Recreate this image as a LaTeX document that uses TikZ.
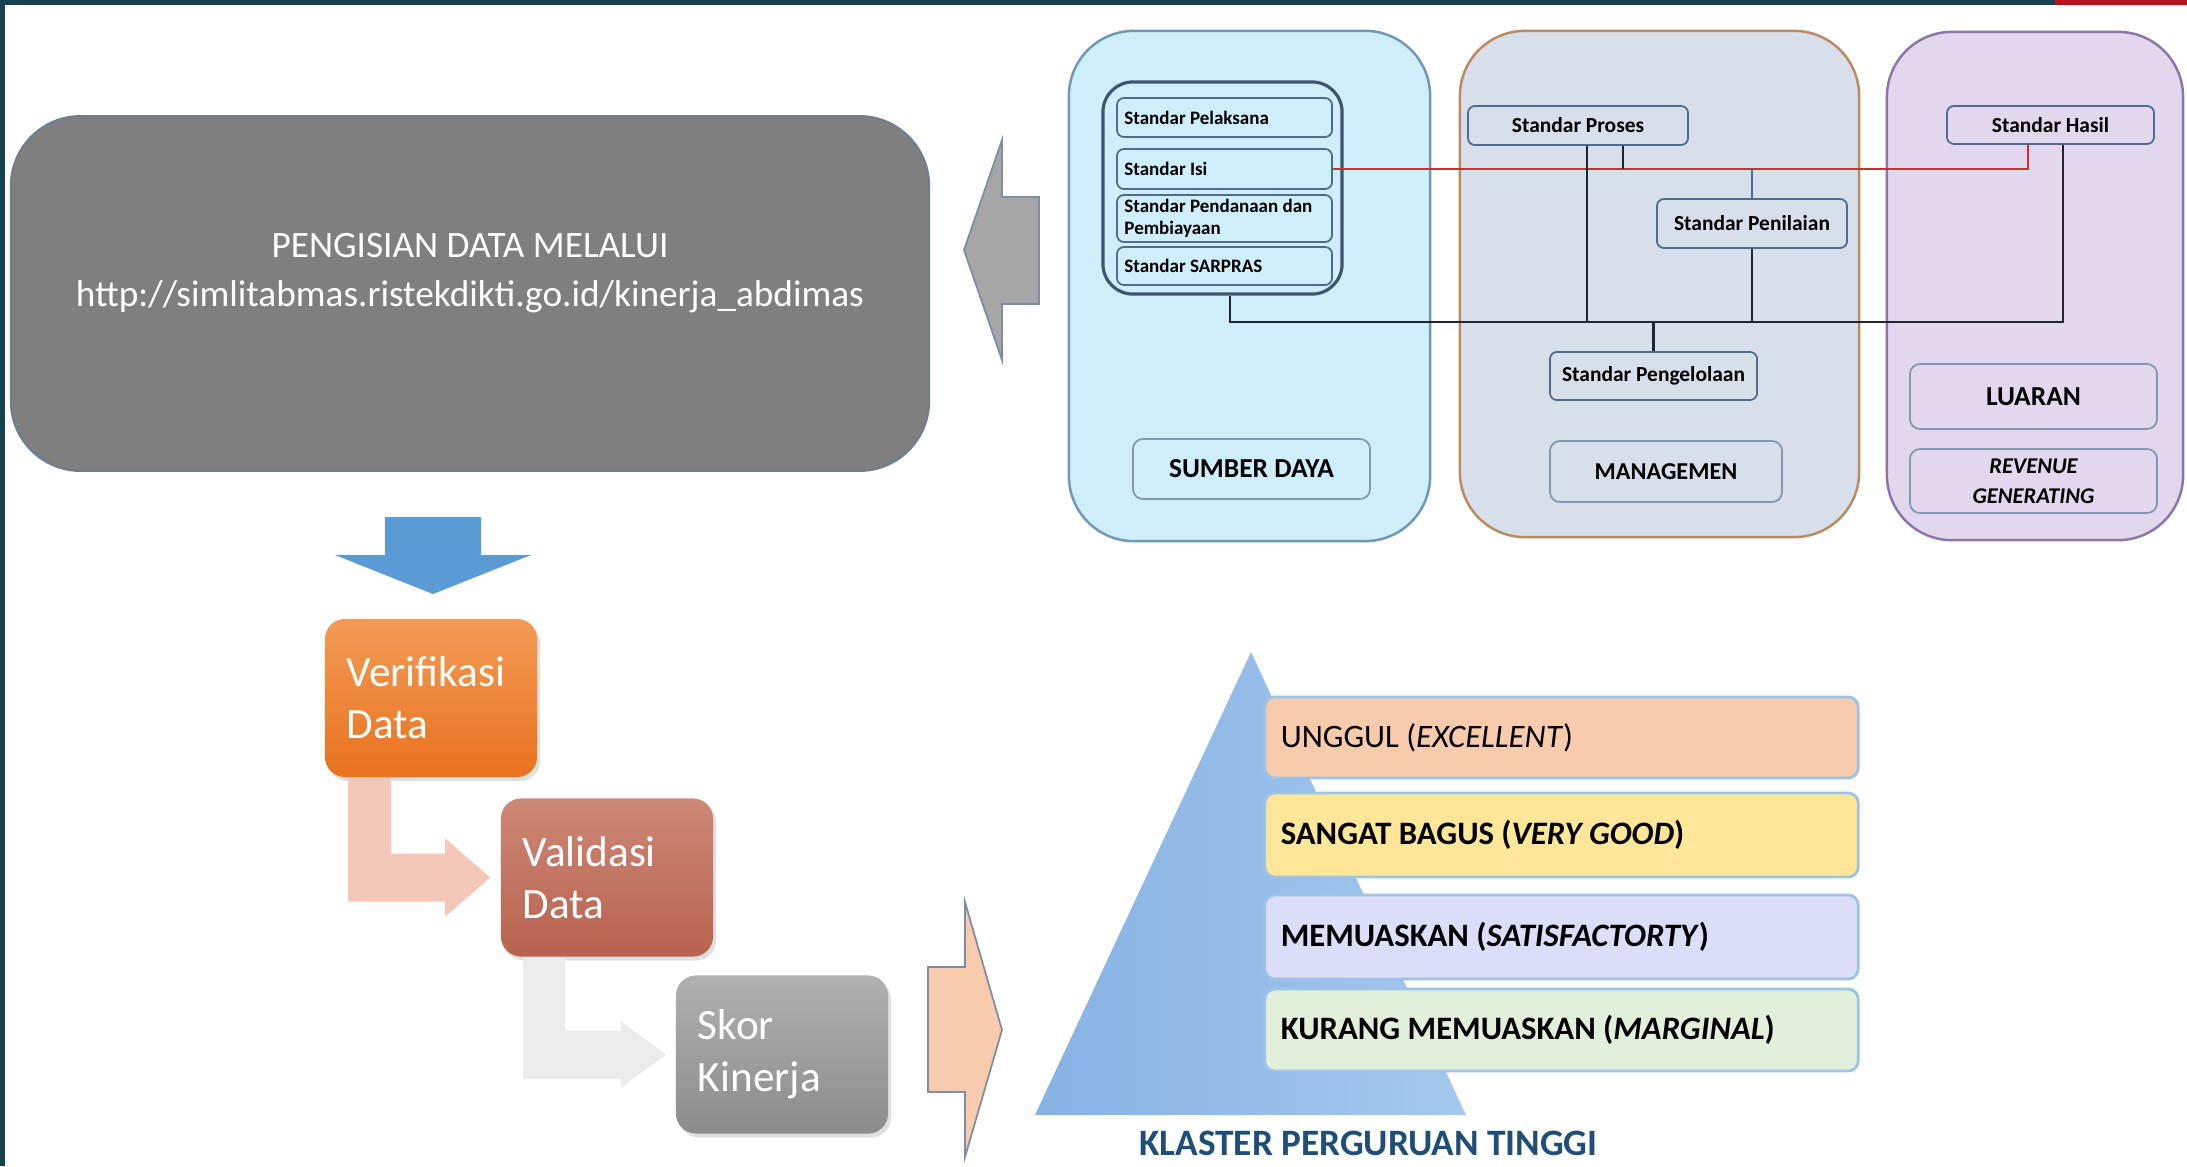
\documentclass[tikz,border=0pt]{standalone}
\usepackage{fontspec}
\setmainfont{Carlito}
\usetikzlibrary{positioning,calc,shadows}

\definecolor{frameteal}{HTML}{16414E}
\definecolor{framered}{HTML}{B3141C}
\definecolor{datagray}{HTML}{7F7F7F}
\definecolor{dataedge}{HTML}{6A7D92}
\definecolor{arrowgray}{HTML}{A6A6A6}
\definecolor{arrowedge}{HTML}{7E8DA3}
\definecolor{sumberfill}{HTML}{CDEEFA}
\definecolor{sumberedge}{HTML}{7197B8}
\definecolor{mgmtfill}{HTML}{D7DFEA}
\definecolor{mgmtedge}{HTML}{BC8A62}
\definecolor{luaranfill}{HTML}{E2D7EC}
\definecolor{luaranedge}{HTML}{8B76AA}
\definecolor{boxedge}{HTML}{4E6A8C}
\definecolor{busblack}{HTML}{1E2633}
\definecolor{busred}{HTML}{D42A30}
\definecolor{busblue}{HTML}{4A6C9A}
\definecolor{downblue}{HTML}{5B9BD5}
\definecolor{peach}{HTML}{F8CBAD}
\definecolor{levelyellow}{HTML}{FFE699}
\definecolor{levellav}{HTML}{DCDDF8}
\definecolor{levelgreen}{HTML}{E2EFDA}
\definecolor{leveledge}{HTML}{9DC3E6}
\definecolor{klasterblue}{HTML}{1F4E79}
\definecolor{bentpeach}{HTML}{F4C7B8}
\definecolor{bentgray}{HTML}{EBEBEB}
\definecolor{veriftop}{HTML}{F39A55}
\definecolor{verifbot}{HTML}{E8731F}
\definecolor{validtop}{HTML}{CD8876}
\definecolor{validbot}{HTML}{B7624F}
\definecolor{skortop}{HTML}{B0B0B0}
\definecolor{skorbot}{HTML}{8C8C8C}
\definecolor{pyramidl}{HTML}{86B2E3}
\definecolor{pyramidr}{HTML}{A5C8EE}

\tikzset{
  panel/.style={draw=#1, line width=0.7pt, rounded corners=0.65cm},
  stdleft/.style={draw=boxedge, fill=sumberfill, line width=0.5pt, rounded corners=0.07cm,
    text width=2cm, inner xsep=0.075cm, inner ysep=0pt, align=flush left,
    font=\bfseries\fontsize{5.4}{6.4}\selectfont},
  stdmid/.style={draw=boxedge, fill=#1, line width=0.5pt, rounded corners=0.07cm,
    inner sep=0pt, font=\bfseries\fontsize{6.1}{7.3}\selectfont},
  lblbox/.style={draw=boxedge!70, fill=#1, line width=0.5pt, rounded corners=0.1cm,
    inner sep=0pt, align=center},
  busln/.style={draw=busblack, line width=0.8pt},
  redln/.style={draw=busred, line width=0.5pt},
  blockarrow/.style={draw=arrowedge, line width=0.5pt},
  procbox/.style={rounded corners=0.2cm, text=white, text width=1.68cm, inner xsep=0.22cm,
    align=flush left, minimum height=1.58cm, font=\fontsize{12.3}{14.8}\selectfont,
    drop shadow={opacity=0.25, shadow xshift=0.03cm, shadow yshift=-0.04cm}},
  levelbox/.style={draw=leveledge, fill=#1, line width=0.8pt, rounded corners=0.1cm,
    text width=5.61cm, inner xsep=0.16cm, align=flush left, font=\fontsize{9.3}{11}\selectfont}
}

\begin{document}
\begin{tikzpicture}[x=0.01cm,y=-0.01cm]
  % Frame
  \fill[white] (0,0) rectangle (2187,1166);
  \useasboundingbox (0,0) rectangle (2187,1166);
  \fill[frameteal] (0,0) rectangle (2055,5);
  \fill[framered] (2055,0) rectangle (2187,5);
  \fill[frameteal] (0,0) rectangle (5,1166);

  % Data entry
  \node[draw=dataedge, fill=datagray, line width=0.5pt, rounded corners=0.7cm,
    minimum width=9.18cm, minimum height=3.55cm] (data) at (470,293.5) {};
  \node[text=white, align=center, font=\fontsize{10.6}{13.8}\selectfont] (url) at (470,273)
    {PENGISIAN DATA MELALUI\\http://simlitabmas.ristekdikti.go.id/kinerja\_abdimas};
  \draw[blockarrow, fill=arrowgray] (964,250) -- (1002,140) -- (1002,197) -- (1039,197)
    -- (1039,304) -- (1002,304) -- (1002,360) -- cycle;

  % Sumber daya
  \node[panel=sumberedge, fill=sumberfill, minimum width=3.61cm, minimum height=5.1cm] (sumber) at (1249.5,286) {};
  \node[draw=boxedge!80!black, line width=0.9pt, rounded corners=0.3cm,
    minimum width=2.39cm, minimum height=2.12cm] (grp) at (1222.5,188) {};
  \node[stdleft, minimum height=0.39cm] (pelaksana) at (1224.5,117.5) {Standar Pelaksana};
  \node[stdleft, minimum height=0.40cm] (isi) at (1224.5,169) {Standar Isi};
  \node[stdleft, minimum height=0.47cm] (dana) at (1224.5,218.5) {Standar Pendanaan dan\\Pembiayaan};
  \node[stdleft, minimum height=0.38cm] (sarpras) at (1224.5,266) {Standar SARPRAS};
  \node[lblbox=sumberfill, minimum width=2.37cm, minimum height=0.6cm,
    font=\bfseries\fontsize{7.8}{9}\selectfont] (sumberlbl) at (1251.5,469) {SUMBER DAYA};

  % Managemen
  \node[panel=mgmtedge, fill=mgmtfill, minimum width=3.99cm, minimum height=5.06cm] (mgmt) at (1659.5,284) {};
  \node[stdmid=mgmtfill, minimum width=2.2cm, minimum height=0.39cm] (proses) at (1578,125.5) {Standar Proses};
  \node[stdmid=mgmtfill, minimum width=1.9cm, minimum height=0.49cm] (nilai) at (1752,223.5) {Standar Penilaian};
  \node[stdmid=mgmtfill, minimum width=2.07cm, minimum height=0.48cm] (kelola) at (1653.5,376) {Standar Pengelolaan};
  \node[lblbox=mgmtfill, minimum width=2.32cm, minimum height=0.61cm,
    font=\bfseries\fontsize{6.9}{8}\selectfont] (mgmtlbl) at (1666,471.5) {MANAGEMEN};

  % Luaran
  \node[panel=luaranedge, fill=luaranfill, minimum width=2.96cm, minimum height=5.08cm] (luaran) at (2035,286) {};
  \node[stdmid=luaranfill, minimum width=2.07cm, minimum height=0.38cm] (hasil) at (2050.5,125) {Standar Hasil};
  \node[lblbox=luaranfill, minimum width=2.47cm, minimum height=0.65cm,
    font=\bfseries\fontsize{7.8}{9}\selectfont] (luaranlbl) at (2033.5,396.5) {LUARAN};
  \node[lblbox=luaranfill, minimum width=2.47cm, minimum height=0.64cm,
    font=\bfseries\itshape\fontsize{6.4}{8.4}\selectfont] (revenue) at (2033.5,481) {REVENUE\\GENERATING};

  % Connectors
  \coordinate (bus) at (0,322);
  \coordinate (grpB) at ($(grp.south)+(7.5,0)$);
  \coordinate (hasilB) at ($(hasil.south)+(12.5,0)$);
  \coordinate (hasilR) at ($(hasil.south)+(-22.5,0)$);
  \coordinate (prosA) at ($(proses.south)+(9,0)$);
  \coordinate (prosB) at ($(proses.south)+(45,0)$);
  \draw[redln] (isi.east) -| (hasilR);
  \draw[busln] (prosB) -- (prosB |- isi.east);
  \draw[draw=busblue, line width=0.7pt] (nilai.north |- isi.east) -- (nilai.north);
  \draw[busln] (grpB) |- (hasilB |- bus) -- (hasilB);
  \draw[busln] (prosA) -- (prosA |- bus);
  \draw[busln] (nilai.south) -- (nilai.south |- bus);
  \draw[busln] (kelola.north |- bus) -- (kelola.north);

  % Process steps
  \fill[downblue] (385,517) -- (481,517) -- (481,555) -- (531,555) -- (433,594) -- (335,555) -- (385,555) -- cycle;
  \node[procbox, top color=veriftop, bottom color=verifbot] (verif) at (431,698) {Verifikasi\\Data};
  \node[procbox, top color=validtop, bottom color=validbot] (valid) at (607,877.5) {Validasi\\Data};
  \node[procbox, top color=skortop, bottom color=skorbot] (skor) at (782,1054.5) {Skor\\Kinerja};
  \fill[bentpeach] ($(verif.south west)+(24,0)$) -- ++(43,0) |- ($(valid.west)+(-55,-24)$) -- ++(0,-15)
    -- ($(valid.west)+(-10,0)$) -- ($(valid.west)+(-55,39)$) -- ++(0,-15) -| ($(verif.south west)+(24,0)$) -- cycle;
  \fill[bentgray] ($(valid.south west)+(23,0)$) -- ++(42,0) |- ($(skor.west)+(-54,-24)$) -- ++(0,-9)
    -- ($(skor.west)+(-9,0)$) -- ($(skor.west)+(-54,33)$) -- ++(0,-9) -| ($(valid.south west)+(23,0)$) -- cycle;

  % Clusters
  \draw[blockarrow, fill=peach] (928,967) -- (965,967) -- (965,902) -- (1002,1030) -- (965,1157)
    -- (965,1092) -- (928,1092) -- cycle;
  \shade[left color=pyramidl, right color=pyramidr] (1251,652) -- (1466,1115) -- (1035,1115) -- cycle;
  \node[levelbox=peach, minimum height=0.81cm] (unggul) at (1561.5,737.5) {UNGGUL (\textit{EXCELLENT})};
  \node[levelbox=levelyellow, minimum height=0.84cm, font=\bfseries\fontsize{9.3}{11}\selectfont] (bagus) at (1561.5,835) {SANGAT BAGUS (\textit{VERY GOOD})};
  \node[levelbox=levellav, minimum height=0.84cm, font=\bfseries\fontsize{9.3}{11}\selectfont] (puas) at (1561.5,937) {MEMUASKAN (\textit{SATISFACTORTY})};
  \node[levelbox=levelgreen, minimum height=0.82cm, font=\bfseries\fontsize{9.3}{11}\selectfont] (kurang) at (1561.5,1030) {KURANG MEMUASKAN (\textit{MARGINAL})};
  \node[text=klasterblue, font=\bfseries\fontsize{10.6}{12}\selectfont] (klaster) at (1368.5,1143) {KLASTER PERGURUAN TINGGI};
\end{tikzpicture}
\end{document}
